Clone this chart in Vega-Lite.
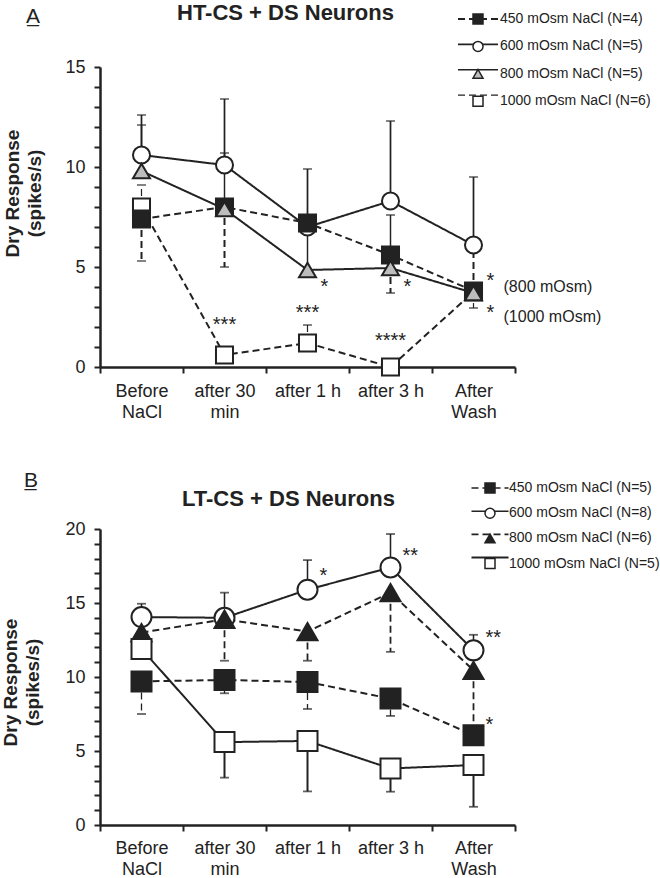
{
  "$schema": "https://vega.github.io/schema/vega-lite/v6.json",
  "padding": {"left": 1, "top": 2, "right": 0, "bottom": 0},
  "config": {
    "font": "Liberation Sans",
    "view": {"stroke": null},
    "axis": {"domainColor": "#222", "tickColor": "#222", "labelColor": "#222", "titleColor": "#222", "grid": false},
    "legend": {"labelColor": "#222", "labelFontSize": 14, "labelFont": "Liberation Sans"},
    "title": {"color": "#222"}
  },
  "spacing": 49,
  "resolve": {"scale": {"x": "independent", "y": "independent", "shape": "independent", "fill": "independent", "stroke": "independent", "strokeDash": "independent", "strokeWidth": "independent"}},
  "datasets": {
    "A": [
      {"t": "Before NaCl", "s": "1000 mOsm NaCl (N=6)", "c": 1000, "v": 8.0, "e": 9.1},
      {"t": "after 30 min", "s": "1000 mOsm NaCl (N=6)", "c": 1000, "v": 0.6, "e": null},
      {"t": "after 1 h", "s": "1000 mOsm NaCl (N=6)", "c": 1000, "v": 1.2, "e": 2.1},
      {"t": "after 3 h", "s": "1000 mOsm NaCl (N=6)", "c": 1000, "v": 0.0, "e": null},
      {"t": "After Wash", "s": "1000 mOsm NaCl (N=6)", "c": 1000, "v": 3.75, "e": 2.95},
      {"t": "Before NaCl", "s": "600 mOsm NaCl (N=5)", "c": 600, "v": 10.6, "e": 12.6},
      {"t": "after 30 min", "s": "600 mOsm NaCl (N=5)", "c": 600, "v": 10.1, "e": 13.4},
      {"t": "after 1 h", "s": "600 mOsm NaCl (N=5)", "c": 600, "v": 7.0, "e": 9.9},
      {"t": "after 3 h", "s": "600 mOsm NaCl (N=5)", "c": 600, "v": 8.3, "e": 12.3},
      {"t": "After Wash", "s": "600 mOsm NaCl (N=5)", "c": 600, "v": 6.1, "e": 9.5},
      {"t": "Before NaCl", "s": "450 mOsm NaCl (N=4)", "c": 450, "v": 7.4, "e": 5.3},
      {"t": "after 30 min", "s": "450 mOsm NaCl (N=4)", "c": 450, "v": 8.0, "e": 5.0},
      {"t": "after 1 h", "s": "450 mOsm NaCl (N=4)", "c": 450, "v": 7.2, "e": null},
      {"t": "after 3 h", "s": "450 mOsm NaCl (N=4)", "c": 450, "v": 5.6, "e": 3.7},
      {"t": "After Wash", "s": "450 mOsm NaCl (N=4)", "c": 450, "v": 3.8, "e": 6.0},
      {"t": "Before NaCl", "s": "800 mOsm NaCl (N=5)", "c": 800, "v": 9.8, "e": 12.1},
      {"t": "after 30 min", "s": "800 mOsm NaCl (N=5)", "c": 800, "v": 7.9, "e": 10.7},
      {"t": "after 1 h", "s": "800 mOsm NaCl (N=5)", "c": 800, "v": 4.85, "e": 7.1},
      {"t": "after 3 h", "s": "800 mOsm NaCl (N=5)", "c": 800, "v": 4.95, "e": 7.6},
      {"t": "After Wash", "s": "800 mOsm NaCl (N=5)", "c": 800, "v": 3.7, "e": null}
    ],
    "annA": [
      {"t": "after 30 min", "v": 1.8, "txt": "***", "k": "c"},
      {"t": "after 1 h", "v": 2.4, "txt": "***", "k": "c"},
      {"t": "after 3 h", "v": 1.0, "txt": "****", "k": "c"},
      {"t": "after 1 h", "v": 3.7, "txt": "*", "k": "r"},
      {"t": "after 3 h", "v": 3.7, "txt": "*", "k": "r"},
      {"t": "After Wash", "v": 4.0, "txt": "*", "k": "r"},
      {"t": "After Wash", "v": 2.4, "txt": "*", "k": "r"},
      {"t": "After Wash", "v": 4.0, "txt": "(800 mOsm)", "k": "n"},
      {"t": "After Wash", "v": 2.5, "txt": "(1000 mOsm)", "k": "n"}
    ],
    "B": [
      {"t": "Before NaCl", "s": "600 mOsm NaCl (N=8)", "c": 600, "v": 14.05, "e": 14.95},
      {"t": "after 30 min", "s": "600 mOsm NaCl (N=8)", "c": 600, "v": 14.0, "e": 15.7},
      {"t": "after 1 h", "s": "600 mOsm NaCl (N=8)", "c": 600, "v": 15.9, "e": 17.9},
      {"t": "after 3 h", "s": "600 mOsm NaCl (N=8)", "c": 600, "v": 17.4, "e": 19.66},
      {"t": "After Wash", "s": "600 mOsm NaCl (N=8)", "c": 600, "v": 11.8, "e": 12.85},
      {"t": "Before NaCl", "s": "800 mOsm NaCl (N=6)", "c": 800, "v": 13.0, "e": null},
      {"t": "after 30 min", "s": "800 mOsm NaCl (N=6)", "c": 800, "v": 13.9, "e": 11.1},
      {"t": "after 1 h", "s": "800 mOsm NaCl (N=6)", "c": 800, "v": 13.07, "e": 11.1},
      {"t": "after 3 h", "s": "800 mOsm NaCl (N=6)", "c": 800, "v": 15.7, "e": 11.7},
      {"t": "After Wash", "s": "800 mOsm NaCl (N=6)", "c": 800, "v": 10.45, "e": 6.7},
      {"t": "Before NaCl", "s": "1000 mOsm NaCl (N=5)", "c": 1000, "v": 11.9, "e": null},
      {"t": "after 30 min", "s": "1000 mOsm NaCl (N=5)", "c": 1000, "v": 5.6, "e": 3.2},
      {"t": "after 1 h", "s": "1000 mOsm NaCl (N=5)", "c": 1000, "v": 5.68, "e": 2.27},
      {"t": "after 3 h", "s": "1000 mOsm NaCl (N=5)", "c": 1000, "v": 3.82, "e": 2.25},
      {"t": "After Wash", "s": "1000 mOsm NaCl (N=5)", "c": 1000, "v": 4.05, "e": 1.23},
      {"t": "Before NaCl", "s": "450 mOsm NaCl (N=5)", "c": 450, "v": 9.7, "e": 7.5},
      {"t": "after 30 min", "s": "450 mOsm NaCl (N=5)", "c": 450, "v": 9.8, "e": 8.9},
      {"t": "after 1 h", "s": "450 mOsm NaCl (N=5)", "c": 450, "v": 9.66, "e": 7.84},
      {"t": "after 3 h", "s": "450 mOsm NaCl (N=5)", "c": 450, "v": 8.54, "e": 7.37},
      {"t": "After Wash", "s": "450 mOsm NaCl (N=5)", "c": 450, "v": 6.07, "e": null}
    ],
    "annB": [
      {"t": "after 1 h", "v": 16.4, "txt": "*", "k": "r"},
      {"t": "after 3 h", "v": 17.8, "txt": "**", "k": "r"},
      {"t": "After Wash", "v": 12.25, "txt": "**", "k": "r"},
      {"t": "After Wash", "v": 6.35, "txt": "*", "k": "r"}
    ]
  },
  "vconcat": [
    {
      "title": {"text": "A̲", "anchor": "start", "frame": "bounds", "fontSize": 21, "fontWeight": "normal", "dx": 23, "offset": -25},
      "resolve": {"scale": {"x": "independent", "y": "independent", "shape": "independent", "fill": "independent", "stroke": "independent", "strokeDash": "independent", "strokeWidth": "independent"}},
      "vconcat": [
        {
          "width": 415,
          "height": 300,
          "title": {"text": "HT-CS + DS Neurons", "anchor": "start", "frame": "group", "dx": 77, "offset": -13, "fontSize": 22, "fontWeight": "bold"},
          "data": {"name": "A"},
          "encoding": {
            "x": {"field": "t", "type": "nominal", "sort": ["Before NaCl", "after 30 min", "after 1 h", "after 3 h", "After Wash"],
              "scale": {"type": "band", "paddingInner": 0, "paddingOuter": 0},
              "axis": {"title": null, "labelAngle": 0, "labelFontSize": 18, "labelLineHeight": 21, "labelPadding": 9, "tickBand": "extent", "tickSize": 6, "tickWidth": 2, "domainWidth": 2.5,
                "labelExpr": "datum.value == 'Before NaCl' ? ['Before', 'NaCl'] : datum.value == 'after 30 min' ? ['after 30', 'min'] : datum.value == 'After Wash' ? ['After', 'Wash'] : datum.value"}},
            "y": {"field": "v", "type": "quantitative", "scale": {"domain": [0, 15], "nice": false},
              "axis": {"title": ["Dry Response", "(spikes/s)"], "titleFontSize": 19, "titleFontWeight": "bold", "titleAngle": -90, "titleX": -97, "titleY": 126, "titleAlign": "center", "titleBaseline": "top", "titleLineHeight": 22,
                "values": [0, 1, 2, 3, 4, 5, 6, 7, 8, 9, 10, 11, 12, 13, 14, 15], "labelExpr": "datum.value % 5 === 0 ? datum.label : ''", "labelFontSize": 18, "labelPadding": 9, "labelFlush": false, "labelOverlap": false,
                "tickSize": 6, "tickWidth": 2, "domainWidth": 2.5}}
          },
          "layer": [
            {
              "transform": [{"filter": "datum.e != null"}],
              "mark": {"type": "rule", "color": "#222"},
              "encoding": {
                "y2": {"field": "e"},
                "strokeDash": {"field": "c", "type": "ordinal", "scale": {"domain": [450, 600, 800, 1000], "range": [[7, 4], [1, 0], [1, 0], [7, 4]]},
                  "legend": {"orient": "none", "legendX": 371, "legendY": -55, "title": null, "symbolType": "M-4,0H4", "symbolSize": 100, "symbolStrokeColor": "#222", "symbolStrokeWidth": 2, "labelExpr": "''", "labelFontSize": 14, "rowPadding": 11.4, "zindex": 0}},
                "strokeWidth": {"field": "c", "type": "ordinal", "scale": {"domain": [450, 600, 800, 1000], "range": [2, 1.2, 2, 2]}, "legend": null}
              }
            },
            {
              "transform": [{"filter": "datum.e != null"}],
              "mark": {"type": "tick", "color": "#222", "size": 9, "thickness": 1.6},
              "encoding": {"y": {"field": "e", "type": "quantitative"}}
            },
            {
              "mark": {"type": "line", "color": "#222", "strokeWidth": 2},
              "encoding": {
                "strokeDash": {"field": "c", "type": "ordinal", "scale": {"domain": [450, 600, 800, 1000], "range": [[7, 4], [1, 0], [1, 0], [7, 4]]},
                  "legend": {"orient": "none", "legendX": 371, "legendY": -55, "title": null, "symbolType": "M-4,0H4", "symbolSize": 100, "symbolStrokeColor": "#222", "symbolStrokeWidth": 2, "labelExpr": "''", "labelFontSize": 14, "rowPadding": 11.4, "zindex": 0}}
              }
            },
            {
              "mark": {"type": "point", "filled": false, "size": 290, "strokeWidth": 2, "opacity": 1},
              "encoding": {
                "shape": {"field": "s", "type": "nominal", "scale": {"domain": ["450 mOsm NaCl (N=4)", "600 mOsm NaCl (N=5)", "800 mOsm NaCl (N=5)", "1000 mOsm NaCl (N=6)"], "range": ["square", "circle", "triangle-up", "square"]},
                  "legend": {"orient": "none", "legendX": 371, "legendY": -55, "title": null, "symbolSize": 100, "symbolStrokeWidth": 1.5, "labelFontSize": 14, "labelOffset": 15, "rowPadding": 11.4, "zindex": 1}},
                "fill": {"field": "s", "type": "nominal", "scale": {"domain": ["450 mOsm NaCl (N=4)", "600 mOsm NaCl (N=5)", "800 mOsm NaCl (N=5)", "1000 mOsm NaCl (N=6)"], "range": ["#222", "white", "#bdbdbd", "white"]},
                  "legend": {"orient": "none", "legendX": 371, "legendY": -55, "title": null, "symbolSize": 100, "symbolStrokeWidth": 1.5, "labelFontSize": 14, "labelOffset": 15, "rowPadding": 11.4, "zindex": 1}},
                "stroke": {"field": "s", "type": "nominal", "scale": {"domain": ["450 mOsm NaCl (N=4)", "600 mOsm NaCl (N=5)", "800 mOsm NaCl (N=5)", "1000 mOsm NaCl (N=6)"], "range": ["#222", "#222", "#222", "#222"]},
                  "legend": {"orient": "none", "legendX": 371, "legendY": -55, "title": null, "symbolSize": 100, "symbolStrokeWidth": 1.5, "labelFontSize": 14, "labelOffset": 15, "rowPadding": 11.4, "zindex": 1}}
              }
            },
            {
              "data": {"name": "annA"},
              "transform": [{"filter": "datum.k == 'c'"}],
              "mark": {"type": "text", "fontSize": 20, "align": "center", "baseline": "alphabetic", "color": "#222"},
              "encoding": {"text": {"field": "txt"}}
            },
            {
              "data": {"name": "annA"},
              "transform": [{"filter": "datum.k == 'r'"}],
              "mark": {"type": "text", "fontSize": 20, "align": "left", "baseline": "alphabetic", "dx": 13, "color": "#222"},
              "encoding": {"text": {"field": "txt"}}
            },
            {
              "data": {"name": "annA"},
              "transform": [{"filter": "datum.k == 'n'"}],
              "mark": {"type": "text", "fontSize": 16, "align": "left", "baseline": "middle", "dx": 30, "color": "#222"},
              "encoding": {"text": {"field": "txt"}}
            }
          ]
        }
      ]
    },
    {
      "title": {"text": "B̲", "anchor": "start", "frame": "bounds", "fontSize": 21, "fontWeight": "normal", "dx": 23, "offset": -10},
      "resolve": {"scale": {"x": "independent", "y": "independent", "shape": "independent", "fill": "independent", "stroke": "independent", "strokeDash": "independent", "strokeWidth": "independent"}},
      "vconcat": [
        {
          "width": 415,
          "height": 296,
          "title": {"text": "LT-CS + DS Neurons", "anchor": "start", "frame": "group", "dx": 82, "offset": -30, "fontSize": 22, "fontWeight": "bold"},
          "data": {"name": "B"},
          "encoding": {
            "x": {"field": "t", "type": "nominal", "sort": ["Before NaCl", "after 30 min", "after 1 h", "after 3 h", "After Wash"],
              "scale": {"type": "band", "paddingInner": 0, "paddingOuter": 0},
              "axis": {"title": null, "labelAngle": 0, "labelFontSize": 18, "labelLineHeight": 21, "labelPadding": 8, "tickBand": "extent", "tickSize": 6, "tickWidth": 2, "domainWidth": 2.5,
                "labelExpr": "datum.value == 'Before NaCl' ? ['Before', 'NaCl'] : datum.value == 'after 30 min' ? ['after 30', 'min'] : datum.value == 'After Wash' ? ['After', 'Wash'] : datum.value"}},
            "y": {"field": "v", "type": "quantitative", "scale": {"domain": [0, 20], "nice": false},
              "axis": {"title": ["Dry Response", "(spikes/s)"], "titleFontSize": 19, "titleFontWeight": "bold", "titleAngle": -90, "titleX": -99, "titleY": 153, "titleAlign": "center", "titleBaseline": "top", "titleLineHeight": 22,
                "values": [0, 1, 2, 3, 4, 5, 6, 7, 8, 9, 10, 11, 12, 13, 14, 15, 16, 17, 18, 19, 20], "labelExpr": "datum.value % 5 === 0 ? datum.label : ''", "labelFontSize": 18, "labelPadding": 9, "labelFlush": false, "labelOverlap": false,
                "tickSize": 6, "tickWidth": 2, "domainWidth": 2.5}}
          },
          "layer": [
            {
              "transform": [{"filter": "datum.e != null"}],
              "mark": {"type": "rule", "color": "#222"},
              "encoding": {
                "y2": {"field": "e"},
                "strokeDash": {"field": "c", "type": "ordinal", "scale": {"domain": [450, 600, 800, 1000], "range": [[7, 4], [1, 0], [7, 4], [1, 0]]},
                  "legend": {"orient": "none", "legendX": 383, "legendY": -48, "title": null, "symbolType": "M-3.7,0H3.7", "symbolSize": 100, "symbolStrokeColor": "#222", "symbolStrokeWidth": 2, "labelExpr": "''", "labelFontSize": 14, "rowPadding": 9.2, "zindex": 0}},
                "strokeWidth": {"field": "c", "type": "ordinal", "scale": {"domain": [450, 600, 800, 1000], "range": [1.3, 2, 2, 2]}, "legend": null}
              }
            },
            {
              "transform": [{"filter": "datum.e != null"}],
              "mark": {"type": "tick", "color": "#222", "size": 9, "thickness": 1.8},
              "encoding": {"y": {"field": "e", "type": "quantitative"}}
            },
            {
              "mark": {"type": "line", "color": "#222", "strokeWidth": 2},
              "encoding": {
                "strokeDash": {"field": "c", "type": "ordinal", "scale": {"domain": [450, 600, 800, 1000], "range": [[7, 4], [1, 0], [7, 4], [1, 0]]},
                  "legend": {"orient": "none", "legendX": 383, "legendY": -48, "title": null, "symbolType": "M-3.7,0H3.7", "symbolSize": 100, "symbolStrokeColor": "#222", "symbolStrokeWidth": 2, "labelExpr": "''", "labelFontSize": 14, "rowPadding": 9.2, "zindex": 0}}
              }
            },
            {
              "mark": {"type": "point", "filled": false, "size": 400, "strokeWidth": 2, "opacity": 1},
              "encoding": {
                "shape": {"field": "s", "type": "nominal", "scale": {"domain": ["450 mOsm NaCl (N=5)", "600 mOsm NaCl (N=8)", "800 mOsm NaCl (N=6)", "1000 mOsm NaCl (N=5)"], "range": ["square", "circle", "triangle-up", "square"]},
                  "legend": {"orient": "none", "legendX": 383, "legendY": -48, "title": null, "symbolSize": 100, "symbolStrokeWidth": 1.5, "labelFontSize": 14, "labelOffset": 12, "rowPadding": 9.2, "zindex": 1}},
                "fill": {"field": "s", "type": "nominal", "scale": {"domain": ["450 mOsm NaCl (N=5)", "600 mOsm NaCl (N=8)", "800 mOsm NaCl (N=6)", "1000 mOsm NaCl (N=5)"], "range": ["#222", "white", "#222", "white"]},
                  "legend": {"orient": "none", "legendX": 383, "legendY": -48, "title": null, "symbolSize": 100, "symbolStrokeWidth": 1.5, "labelFontSize": 14, "labelOffset": 12, "rowPadding": 9.2, "zindex": 1}},
                "stroke": {"field": "s", "type": "nominal", "scale": {"domain": ["450 mOsm NaCl (N=5)", "600 mOsm NaCl (N=8)", "800 mOsm NaCl (N=6)", "1000 mOsm NaCl (N=5)"], "range": ["#222", "#222", "#222", "#222"]},
                  "legend": {"orient": "none", "legendX": 383, "legendY": -48, "title": null, "symbolSize": 100, "symbolStrokeWidth": 1.5, "labelFontSize": 14, "labelOffset": 12, "rowPadding": 9.2, "zindex": 1}}
              }
            },
            {
              "data": {"name": "annB"},
              "mark": {"type": "text", "fontSize": 20, "align": "left", "baseline": "alphabetic", "dx": 12, "color": "#222"},
              "encoding": {"text": {"field": "txt"}}
            }
          ]
        }
      ]
    }
  ]
}
